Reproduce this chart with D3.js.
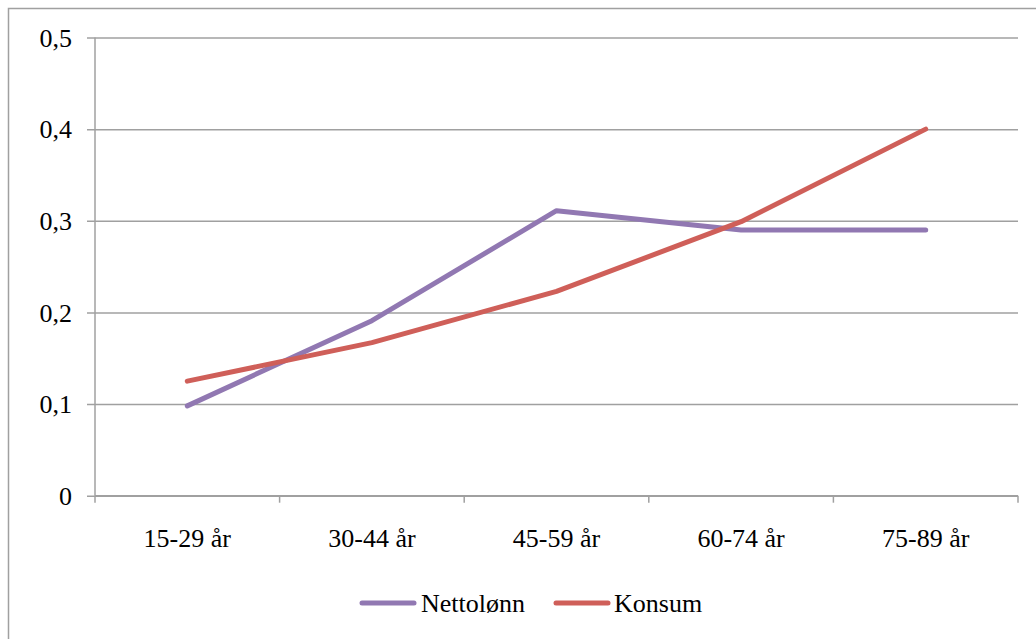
<!DOCTYPE html>
<html>
<head>
<meta charset="utf-8">
<script src="https://cdn.jsdelivr.net/npm/d3@7"></script>
<style>
  html, body { margin: 0; padding: 0; background: #fff; }
  #chart { display: block; }
  #chart text { font-family: "Liberation Serif", "Times New Roman", serif !important; font-size: 26px !important; }
</style>
</head>
<body>
<svg id="chart" width="1036" height="639"></svg>
<script>
// Age groups on the x axis
const categories = ["15-29 år", "30-44 år", "45-59 år", "60-74 år", "75-89 år"];
// Series values per age group
const nettolonn = [0.098, 0.191, 0.311, 0.290, 0.290];
const konsum = [0.125, 0.167, 0.223, 0.299, 0.400];
// Y axis tick values and their labels
const yTicks = [0, 0.1, 0.2, 0.3, 0.4, 0.5];
const yTickLabels = ["0", "0,1", "0,2", "0,3", "0,4", "0,5"];

const seriesList = [
  { name: "Nettolønn", values: nettolonn, color: "#9178b2" },
  { name: "Konsum", values: konsum, color: "#cf5f59" }
];

const svg = d3.select("#chart");
const gridColor = "#a0a0a0";

function styleText(sel) {
  sel.attr("font-family", "Liberation Serif")
    .attr("font-size", 26)
    .attr("fill", "#000");
}

// Outer chart frame (top and left edges visible)
svg.append("rect")
  .attr("x", 8.5).attr("y", 8.5)
  .attr("width", 1100).attr("height", 700)
  .attr("fill", "none")
  .attr("stroke", gridColor)
  .attr("stroke-width", 1.5);

const plot = { left: 95, right: 1018, top: 37.5, bottom: 495.7 };

const x = d3.scaleBand().domain(categories).range([plot.left, plot.right]);
const y = d3.scaleLinear().domain([0, 0.5]).range([plot.bottom, plot.top]);

// Horizontal gridlines with left-side ticks
const yAxis = d3.axisLeft(y)
  .tickValues(yTicks)
  .tickFormat((d, i) => yTickLabels[i])
  .tickSize(-(plot.right - plot.left));

const gy = svg.append("g")
  .attr("transform", `translate(${plot.left},0)`)
  .call(yAxis)
  .attr("font-family", "Liberation Serif")
  .attr("font-size", 26);
gy.select(".domain").remove();
gy.selectAll(".tick line")
  .attr("x1", -8)
  .attr("stroke", gridColor)
  .attr("stroke-width", 1.5);
gy.selectAll(".tick text")
  .call(styleText)
  .attr("x", -23)
  .attr("dy", "0.34em");

// Vertical axis line
svg.append("line")
  .attr("x1", plot.left).attr("x2", plot.left)
  .attr("y1", plot.top).attr("y2", plot.bottom)
  .attr("stroke", gridColor).attr("stroke-width", 1.5);

// Category axis with boundary ticks
const gx = svg.append("g")
  .attr("transform", `translate(0,${plot.bottom})`);
gx.append("line")
  .attr("x1", plot.left).attr("x2", plot.right)
  .attr("stroke", gridColor).attr("stroke-width", 1.5);
const boundaries = categories.map(c => x(c)).concat([plot.right]);
gx.selectAll("line.bt")
  .data(boundaries)
  .join("line")
  .attr("class", "bt")
  .attr("x1", d => d).attr("x2", d => d)
  .attr("y1", 0).attr("y2", 7)
  .attr("stroke", gridColor).attr("stroke-width", 1.5);
gx.selectAll("text.cat")
  .data(categories)
  .join("text")
  .attr("class", "cat")
  .attr("x", d => x(d) + x.bandwidth() / 2)
  .attr("y", 51)
  .attr("text-anchor", "middle")
  .call(styleText)
  .text(d => d);

// Series lines
const line = d3.line()
  .x((d, i) => x(categories[i]) + x.bandwidth() / 2)
  .y(d => y(d));

svg.selectAll("path.series")
  .data(seriesList)
  .join("path")
  .attr("class", "series")
  .attr("d", d => line(d.values))
  .attr("fill", "none")
  .attr("stroke", d => d.color)
  .attr("stroke-width", 5)
  .attr("stroke-linecap", "round")
  .attr("stroke-linejoin", "round");

// Legend
const legendY = 603;
const legendItems = [
  { s: seriesList[0], lx: 362, tx: 421 },
  { s: seriesList[1], lx: 556, tx: 614 }
];
const lg = svg.append("g");
legendItems.forEach(item => {
  lg.append("line")
    .attr("x1", item.lx).attr("x2", item.lx + 52)
    .attr("y1", legendY).attr("y2", legendY)
    .attr("stroke", item.s.color)
    .attr("stroke-width", 5)
    .attr("stroke-linecap", "round");
  lg.append("text")
    .attr("x", item.tx)
    .attr("y", legendY + 9)
    .call(styleText)
    .text(item.s.name);
});
</script>
</body>
</html>
